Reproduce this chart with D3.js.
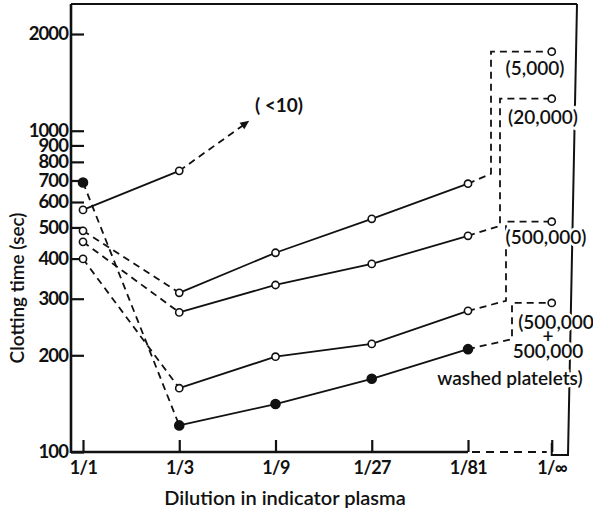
<!DOCTYPE html>
<html><head><meta charset="utf-8">
<script src="https://cdn.jsdelivr.net/npm/d3@7"></script>
<style>
html,body{margin:0;padding:0;background:#fff;}
svg{display:block;}
text{font-family:Lato,"DejaVu Sans",sans-serif;fill:#111;}
</style></head><body>
<svg id="chart" width="593" height="510"></svg>
<script>
// ---- data ----
const categories = ["1/1","1/3","1/9","1/27","1/81","1/\u221E"];
const yTicks = [100,200,300,400,500,600,700,800,900,1000,2000];
const s5000   = [488,313,417,532,684,1762];
const s20000  = [451,272,331,385,471,1258];
const s500000 = [399,158,198,217,275,521];
const sWashed = [690,121,141,169,209,291];
const sLow    = [567,750];
const lowLabel = "( <10)";
const seriesLabels = [["(5,000)"],["(20,000)"],["(500,000)"],["(500,000","+","500,000","washed platelets)"]];

// ---- layout ----
const svg = d3.select("#chart");
const ink = "#111";
const x = d3.scaleLinear().domain([0,4]).range([83,468]);
const infIdx = 4.87;
const px = i => i < 5 ? x(i) : x(infIdx);
const y = d3.scaleLog().domain([100,2480]).range([452,4]);
const x0 = 71, yb = 452, yTop = 4;

svg.append("rect").attr("width",593).attr("height",510).attr("fill","#fff");

// frame: left axis, top, right
svg.append("line").attr("x1",x0).attr("y1",yTop).attr("x2",x0).attr("y2",yb+1)
  .attr("stroke",ink).attr("stroke-width",2.6);
svg.append("line").attr("x1",x0).attr("y1",yTop).attr("x2",577).attr("y2",yTop)
  .attr("stroke",ink).attr("stroke-width",2);
svg.append("path").attr("d",`M577,${yTop}L568,455L${px(5)},455L${px(5)},443`)
  .attr("fill","none").attr("stroke",ink).attr("stroke-width",2);

// bottom axis line: solid to 1/81 then dashed
svg.append("line").attr("x1",x0).attr("y1",yb).attr("x2",x(4)).attr("y2",yb)
  .attr("stroke",ink).attr("stroke-width",2.6);
svg.append("line").attr("x1",x(4)+4).attr("y1",yb).attr("x2",px(5)-5).attr("y2",yb)
  .attr("stroke",ink).attr("stroke-width",2.2).attr("stroke-dasharray","8,6");

// y axis
const yAxis = d3.axisLeft(y).tickValues(yTicks).tickFormat(d3.format("d"))
  .tickSizeInner(-13).tickSizeOuter(0).tickPadding(3);
const gy = svg.append("g").attr("transform",`translate(${x0},0)`).call(yAxis);
gy.select(".domain").remove();
gy.selectAll(".tick line").attr("stroke",ink).attr("stroke-width",2.2);
gy.selectAll(".tick text").attr("font-size",18.5).attr("font-weight",700)
  .attr("fill",ink).style("font-family","Lato, sans-serif").attr("letter-spacing",-0.9);

// x axis
const xAxis = d3.axisBottom(x).tickValues([0,1,2,3,4,infIdx])
  .tickFormat((d,i) => categories[i]).tickSizeInner(-12).tickSizeOuter(0).tickPadding(9);
const gx = svg.append("g").attr("transform",`translate(0,${yb})`).call(xAxis);
gx.select(".domain").remove();
gx.selectAll(".tick line").attr("stroke",ink).attr("stroke-width",2.2);
gx.selectAll(".tick text").attr("font-size",18).attr("font-weight",700)
  .attr("fill",ink).style("font-family","Lato, sans-serif").attr("letter-spacing",-0.6);

// axis titles
svg.append("text").attr("x",285).attr("y",505).attr("text-anchor","middle")
  .attr("font-size",20).attr("font-weight",600).text("Dilution in indicator plasma");
svg.append("text").attr("transform","translate(24,288) rotate(-90)").attr("text-anchor","middle")
  .attr("font-size",19).attr("font-weight",600).text("Clotting time (sec)");

// ---- series ----
const series = [
  {v:s5000, filled:false},
  {v:s20000, filled:false},
  {v:s500000, filled:false},
  {v:sWashed, filled:true}
];
const bendOff = [23,32,38,44];
const dash = "7,5";
const lw = 1.8;
const line = d3.line();

series.forEach((s,k) => {
  const pts = s.v.map((v,i) => [px(i), y(v)]);
  svg.append("path").attr("d", line([pts[0],pts[1]])).attr("fill","none")
    .attr("stroke",ink).attr("stroke-width",lw).attr("stroke-dasharray",dash);
  svg.append("path").attr("d", line(pts.slice(1,5))).attr("fill","none")
    .attr("stroke",ink).attr("stroke-width",lw);
  const bx = x(4) + bendOff[k];
  const step = [pts[4],[bx,pts[4][1]-10],[bx,pts[5][1]],pts[5]];
  svg.append("path").attr("d", line(step)).attr("fill","none")
    .attr("stroke",ink).attr("stroke-width",lw).attr("stroke-dasharray",dash);
});

// low series with arrow
const lowPts = sLow.map((v,i) => [px(i), y(v)]);
svg.append("path").attr("d", line(lowPts)).attr("fill","none").attr("stroke",ink).attr("stroke-width",lw);
const a0 = lowPts[1], a1 = [a0[0]+70, a0[1]-50];
svg.append("path").attr("d", line([a0,[a1[0]-6,a1[1]+4.3]])).attr("fill","none")
  .attr("stroke",ink).attr("stroke-width",lw).attr("stroke-dasharray",dash);
{
  const ang = Math.atan2(a1[1]-a0[1], a1[0]-a0[0]);
  const L = 9, Wd = 4;
  const bxp = a1[0]-L*Math.cos(ang), byp = a1[1]-L*Math.sin(ang);
  const p1 = [bxp + Wd*Math.sin(ang), byp - Wd*Math.cos(ang)];
  const p2 = [bxp - Wd*Math.sin(ang), byp + Wd*Math.cos(ang)];
  svg.append("path").attr("d", `M${a1}L${p1}L${p2}Z`).attr("fill",ink);
}
svg.append("text").attr("x",279).attr("y",112).attr("text-anchor","middle")
  .attr("font-size",19).attr("font-weight",700).text(lowLabel);

// markers
const markerData = [];
series.forEach(s => s.v.forEach((v,i) => markerData.push({x:px(i), y:y(v), filled: s.filled && i<5})));
sLow.forEach((v,i) => markerData.push({x:px(i), y:y(v), filled:false}));
svg.selectAll("circle.m").data(markerData).join("circle").attr("class","m")
  .attr("cx",d=>d.x).attr("cy",d=>d.y).attr("r",d=>d.filled?4.5:3.6)
  .attr("fill",d=>d.filled?ink:"#fff").attr("stroke",ink).attr("stroke-width",1.6);

// right labels
const labelPos = [
  [[535,75]],
  [[543,124]],
  [[546,244]],
  [[556,329],[548,343],[548,358],[510,385]]
];
seriesLabels.forEach((lab,k) => {
  lab.forEach((t,j) => {
    svg.append("text").attr("x",labelPos[k][j][0]).attr("y",labelPos[k][j][1])
      .attr("text-anchor","middle").attr("font-size",19).attr("font-weight",600)
      .attr("stroke","#fff").attr("stroke-width",5).attr("paint-order","stroke")
      .text(t);
  });
});
</script>
</body></html>
